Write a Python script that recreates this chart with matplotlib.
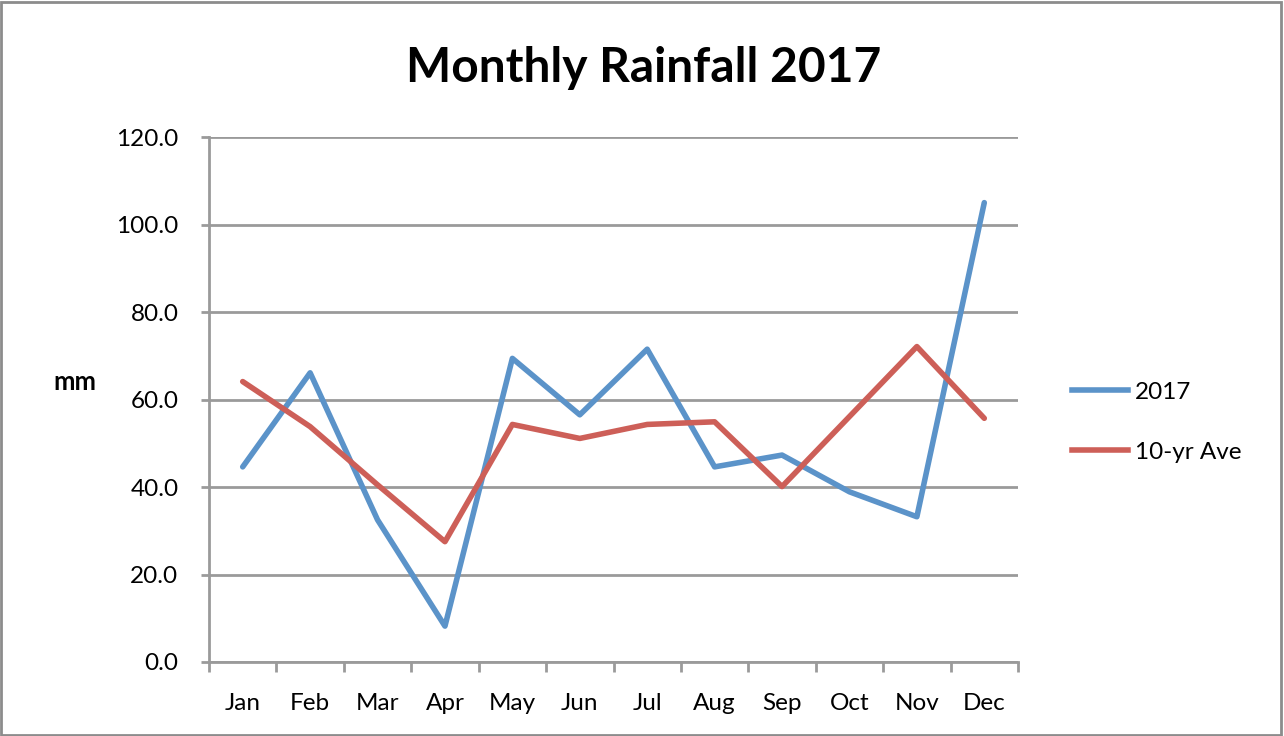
import matplotlib
matplotlib.use("Agg")
import matplotlib.pyplot as plt
from matplotlib.lines import Line2D
import numpy as np

months = ["Jan", "Feb", "Mar", "Apr", "May", "Jun", "Jul", "Aug", "Sep", "Oct", "Nov", "Dec"]
rain_2017 = [44.6, 66.1, 32.5, 8.2, 69.4, 56.5, 71.5, 44.6, 47.3, 38.9, 33.2, 105.0]
rain_10yr = [64.1, 53.8, 40.5, 27.5, 54.3, 51.1, 54.3, 54.9, 40.1, 56.1, 72.1, 55.7]
yticks = [0, 20, 40, 60, 80, 100, 120]

plt.rcParams['font.family'] = ['Lato', 'DejaVu Sans']

W, H = 1284, 736
fig = plt.figure(figsize=(W / 100, H / 100), dpi=100)
ax = fig.add_axes([209 / W, 1 - 662 / H, (1018 - 209) / W, (662 - 137) / H])

blue = "#5b93c9"
red = "#cd5f58"
grid = "#9a9a9a"

x = np.arange(len(months))
ax.plot(x, rain_2017, color=blue, lw=4, solid_capstyle="round", solid_joinstyle="round", label="2017")
ax.plot(x, rain_10yr, color=red, lw=4, solid_capstyle="round", solid_joinstyle="round", label="10-yr Ave")

ax.set_xlim(-0.5, len(months) - 0.5)
ax.set_ylim(0, 120)
ax.set_yticks(yticks)
ax.set_yticklabels([f"{v:.1f}" for v in yticks], fontsize=17.5)
ax.set_xticks(x)
ax.set_xticklabels(months, fontsize=17.5)
ax.set_xticks(np.arange(-0.5, len(months), 1), minor=True)
ax.tick_params(axis="x", which="major", length=0, pad=22)
ax.tick_params(axis="x", which="minor", length=7, width=2, color=grid)
ax.tick_params(axis="y", which="major", length=6, width=2, color=grid, pad=16)

ax.grid(axis="y", color=grid, lw=2)
ax.set_axisbelow(True)
for s in ["top", "right"]:
    ax.spines[s].set_visible(False)
for s in ["left", "bottom"]:
    ax.spines[s].set_color(grid)
    ax.spines[s].set_linewidth(2)

fig.text(644 / W, 1 - 68 / H, "Monthly Rainfall 2017", ha="center", va="center",
         fontsize=34.5, fontweight="bold")
fig.text(75 / W, 1 - 382 / H, "mm", ha="center", va="center", fontsize=18.5, fontweight="bold")

handles = [Line2D([0], [0], color=blue, lw=4), Line2D([0], [0], color=red, lw=4)]
fig.legend(handles, ["2017", "10-yr Ave"], loc="upper left", bbox_to_anchor=(1050 / W, 1 - 360 / H),
           frameon=False, fontsize=17.5, handlelength=2.3, labelspacing=1.6, handletextpad=0.3)

# outer border
fig.add_artist(plt.Rectangle((0.001, 0.001), 0.997, 0.996, transform=fig.transFigure, fill=False,
                             edgecolor="#8c8c8c", lw=2))

fig.savefig("out.png", dpi=100)
